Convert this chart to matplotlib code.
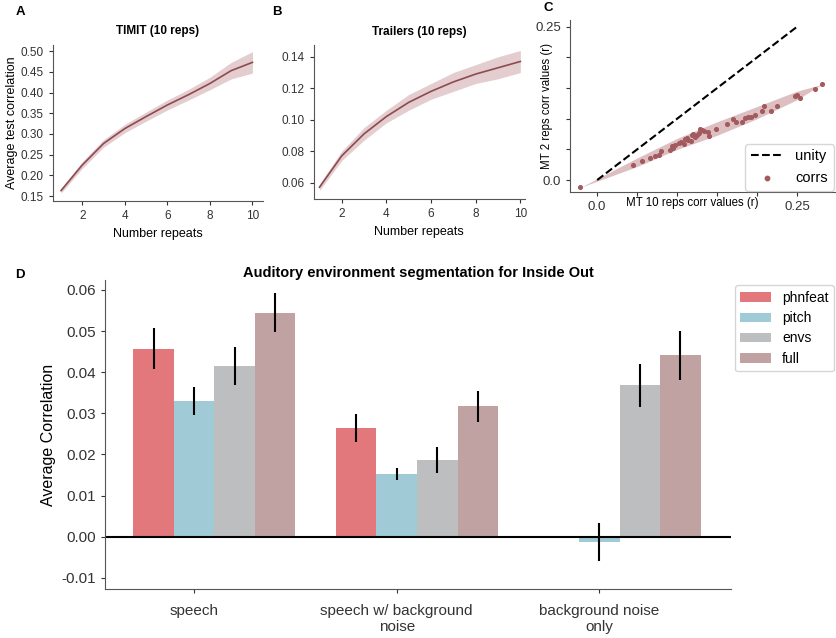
import matplotlib
matplotlib.use("Agg")
import matplotlib.pyplot as plt
from matplotlib.ticker import FormatStrFormatter
import numpy as np

plt.rcParams['font.family'] = ['Liberation Sans', 'DejaVu Sans']

# Panel A: TIMIT
reps = [1, 2, 3, 4, 5, 6, 7, 8, 9, 10]
timit_mean = [0.163, 0.225, 0.277, 0.313, 0.342, 0.370, 0.395, 0.422, 0.453, 0.473]
timit_err = [0.006, 0.008, 0.009, 0.010, 0.011, 0.012, 0.013, 0.015, 0.020, 0.026]

# Panel B: Trailers
trail_mean = [0.057, 0.077, 0.091, 0.102, 0.111, 0.118, 0.124, 0.129, 0.133, 0.137]
trail_err = [0.002, 0.003, 0.004, 0.004, 0.005, 0.005, 0.006, 0.006, 0.007, 0.007]

# Panel C: MT 10 reps vs MT 2 reps
mt10 = [-0.021, 0.045, 0.056, 0.066, 0.072, 0.077, 0.080, 0.091, 0.093, 0.097,
        0.102, 0.109, 0.110, 0.114, 0.117, 0.118, 0.122, 0.125, 0.129, 0.131,
        0.134, 0.139, 0.140, 0.149, 0.162, 0.170, 0.174, 0.181, 0.185, 0.189,
        0.193, 0.206, 0.209, 0.217, 0.225, 0.247, 0.250, 0.254, 0.272, 0.281,
        0.105, 0.112, 0.120, 0.127, 0.095, 0.198]
mt2 = [-0.012, 0.025, 0.031, 0.036, 0.040, 0.041, 0.047, 0.049, 0.055, 0.057,
       0.060, 0.058, 0.067, 0.065, 0.063, 0.073, 0.071, 0.073, 0.084, 0.082,
       0.080, 0.079, 0.072, 0.083, 0.091, 0.100, 0.094, 0.095, 0.101, 0.103,
       0.103, 0.113, 0.120, 0.113, 0.120, 0.137, 0.139, 0.134, 0.149, 0.156,
       0.062, 0.068, 0.075, 0.077, 0.052, 0.106]
band_x = [-0.021, 0.05, 0.10, 0.15, 0.20, 0.25, 0.281]
band_lo = [-0.012, 0.022, 0.050, 0.073, 0.100, 0.131, 0.156]
band_hi = [-0.012, 0.036, 0.068, 0.095, 0.120, 0.145, 0.156]

# Panel D: bar chart
categories = ['speech', 'speech w/ background\nnoise', 'background noise\nonly']
models = ['phnfeat', 'pitch', 'envs', 'full']
colors = ['#E2787C', '#A0CAD6', '#BDBEC0', '#C1A2A3']
values = {
    'phnfeat': [0.0457, 0.0265, np.nan],
    'pitch': [0.0330, 0.0152, -0.0013],
    'envs': [0.0414, 0.0187, 0.0368],
    'full': [0.0545, 0.0317, 0.0441],
}
errors = {
    'phnfeat': [0.0050, 0.0034, np.nan],
    'pitch': [0.0034, 0.0015, 0.0047],
    'envs': [0.0046, 0.0032, 0.0052],
    'full': [0.0047, 0.0037, 0.0060],
}

line_col = '#8E4A50'
band_col = '#E3CDCF'
spine_col = '#555555'

fig = plt.figure(figsize=(8.37, 6.38), dpi=100)

axA = fig.add_axes([0.0633, 0.685, 0.251, 0.2445])
axB = fig.add_axes([0.375, 0.688, 0.252, 0.2415])
axC = fig.add_axes([0.681, 0.699, 0.3166, 0.2696])
axD = fig.add_axes([0.1254, 0.0768, 0.7480, 0.4843])


def style(ax, size):
    for s in ['top', 'right']:
        ax.spines[s].set_visible(False)
    for s in ['left', 'bottom']:
        ax.spines[s].set_color(spine_col)
    ax.tick_params(labelsize=size, colors='#333333', length=3, width=0.8)


# A
lo = np.array(timit_mean) - np.array(timit_err)
hi = np.array(timit_mean) + np.array(timit_err)
axA.fill_between(reps, lo, hi, color=band_col, lw=0)
axA.plot(reps, timit_mean, color=line_col, lw=1.2)
axA.set_xlim(0.62, 10.5)
axA.set_ylim(0.138, 0.515)
axA.set_xticks([2, 4, 6, 8, 10])
axA.set_yticks([0.15, 0.20, 0.25, 0.30, 0.35, 0.40, 0.45, 0.50])
axA.yaxis.set_major_formatter(FormatStrFormatter('%.2f'))
axA.set_xlabel('Number repeats', fontsize=9)
axA.set_ylabel('Average test correlation', fontsize=9, labelpad=2)
axA.set_title('TIMIT (10 reps)', fontsize=8.5, fontweight='bold', pad=8)
style(axA, 8.5)

# B
lo = np.array(trail_mean) - np.array(trail_err)
hi = np.array(trail_mean) + np.array(trail_err)
axB.fill_between(reps, lo, hi, color=band_col, lw=0)
axB.plot(reps, trail_mean, color=line_col, lw=1.2)
axB.set_xlim(0.75, 10.2)
axB.set_ylim(0.0495, 0.1475)
axB.set_xticks([2, 4, 6, 8, 10])
axB.set_yticks([0.06, 0.08, 0.10, 0.12, 0.14])
axB.yaxis.set_major_formatter(FormatStrFormatter('%.2f'))
axB.set_xlabel('Number repeats', fontsize=9)
axB.set_title('Trailers (10 reps)', fontsize=8.5, fontweight='bold', pad=7)
style(axB, 8.5)

# C
axC.fill_between(band_x, band_lo, band_hi, color='#D6B0B2', alpha=0.8, lw=0)
axC.plot([0, 0.25], [0, 0.25], 'k--', lw=1.5, label='unity')
axC.scatter(mt10, mt2, s=7, color='#A25A5E', label='corrs', zorder=3)
axC.set_xlim(-0.034, 0.2975)
axC.set_ylim(-0.0196, 0.261)
axC.set_xticks([0, 0.05, 0.10, 0.15, 0.20, 0.25])
axC.set_xticklabels(['0.0', '', '', '', '', '0.25'])
axC.set_yticks([0, 0.05, 0.10, 0.15, 0.20, 0.25])
axC.set_yticklabels(['0.0', '', '', '', '', '0.25'])
axC.set_xlabel('MT 10 reps corr values (r)', fontsize=8.3)
axC.xaxis.set_label_coords(0.46, -0.03)
axC.set_ylabel('MT 2 reps corr values (r)', fontsize=8.3, labelpad=0)
axC.yaxis.set_label_coords(-0.065, 0.5)
style(axC, 9.5)
axC.legend(loc='lower right', fontsize=10.5, borderaxespad=0.1,
           handlelength=2.2, markerscale=1.2, fancybox=True)

# D
x = np.arange(len(categories))
for j, m in enumerate(models):
    pos = x + (j - 1) * 0.2
    axD.bar(pos, values[m], width=0.2, color=colors[j], label=m)
    axD.errorbar(pos, values[m], yerr=errors[m], fmt='none', ecolor='black',
                 elinewidth=1.5, capsize=0)
axD.axhline(0, color='black', lw=1.5)
axD.set_xlim(-0.44, 2.65)
axD.set_ylim(-0.0127, 0.0624)
axD.set_xticks(x)
axD.set_xticklabels(categories, fontsize=11)
axD.set_yticks([-0.01, 0.0, 0.01, 0.02, 0.03, 0.04, 0.05, 0.06])
axD.set_yticklabels(['-0.01', '0.00', '0.01', '0.02', '0.03', '0.04', '0.05', '0.06'])
axD.set_ylabel('Average Correlation', fontsize=11.5)
axD.set_title('Auditory environment segmentation for Inside Out',
              fontsize=10.5, fontweight='bold', pad=0)
style(axD, 11)
axD.tick_params(axis='x', pad=8)
axD.legend(loc='upper left', bbox_to_anchor=(0.995, 1.005), fontsize=10,
           handlelength=2.2, labelspacing=0.45, fancybox=True)

# panel letters
for letter, (px, py) in zip('ABCD', [(20, 12), (277, 12), (548, 8), (20, 275)]):
    fig.text(px / 837, 1 - py / 638, letter, fontsize=9.5, fontweight='bold',
             ha='center', va='center')

fig.savefig('out.png', dpi=100)
